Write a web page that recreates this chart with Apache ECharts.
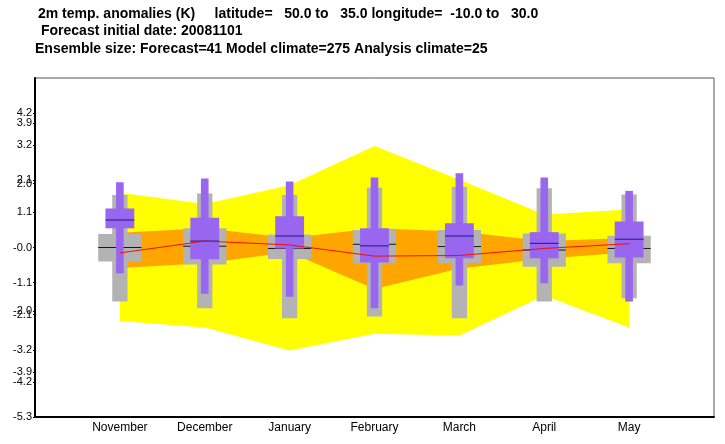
<!DOCTYPE html>
<html>
<head>
<meta charset="utf-8">
<script src="https://cdn.jsdelivr.net/npm/echarts@6/dist/echarts.min.js"></script>
<style>
html,body{margin:0;padding:0;background:#fff;}
#chart{width:725px;height:444px;}
</style>
</head>
<body>
<div id="chart"></div>
<script>
// ---- data ----
const months = ['November','December','January','February','March','April','May'];
// forecast ensemble (purple)
const fcMax = [2.04, 2.16, 2.06, 2.19, 2.32, 2.19, 1.77];
const fcQ3  = [1.22, 0.93, 0.98, 0.60, 0.76, 0.48, 0.81];
const fcMed = [0.86, 0.20, 0.36, 0.05, 0.36, 0.13, 0.26];
const fcQ1  = [0.60, -0.37, -0.03, -0.47, -0.34, -0.34, -0.31];
const fcMin = [-0.81, -1.45, -1.54, -1.90, -1.19, -1.12, -1.69];
// model climate (grey)
const mcMax = [1.64, 1.69, 1.64, 1.87, 1.90, 1.85, 1.66];
const mcQ3  = [0.42, 0.60, 0.41, 0.55, 0.55, 0.44, 0.37];
const mcMed = [0.00, 0.04, -0.03, 0.10, 0.03, -0.08, -0.03];
const mcQ1  = [-0.44, -0.53, -0.36, -0.49, -0.49, -0.60, -0.49];
const mcMin = [-1.69, -1.90, -2.21, -2.16, -2.21, -1.69, -1.59];
// analysis climate (yellow / orange / red)
const anMax = [1.71, 1.36, 1.95, 3.17, 2.12, 1.03, 1.19];
const anQ3  = [0.46, 0.60, 0.30, 0.60, 0.50, 0.20, 0.30];
const anMed = [-0.17, 0.20, 0.08, -0.27, -0.25, -0.03, 0.12];
const anQ1  = [-0.64, -0.49, -0.15, -1.30, -0.66, -0.35, -0.15];
const anMin = [-2.30, -2.50, -3.22, -2.70, -2.75, -1.50, -2.50];
// y axis ticks
const yTickValues = [4.2, 3.9, 3.2, 2.1, 2.0, 1.1, 0, -1.1, -2.0, -2.1, -3.2, -3.9, -4.2, -5.3];
const yTickLabels = ['4.2','3.9','3.2','2.1','2.0','1.1','-0.0','-1.1','-2.0','-2.1','-3.2','-3.9','-4.2','-5.3'];

// ---- build ----
const pos = months.map((m, i) => i + 1);
const boxData = (mn, q1, md, q3, mx) => pos.map((x, i) => [x, mn[i], q1[i], md[i], q3[i], mx[i]]);
const bandData = (lo, hi) => pos.map((x, i) => [x, lo[i], hi[i]]);
// order labels so that the end labels do not collide (avoids automatic hiding of overlapping end labels)
const yLabelValues = [0].concat(yTickValues.filter(v => v !== 0));

function makeBand(lo, hi, color) {
  const data = bandData(lo, hi);
  return {
    type: 'custom',
    data: data,
    silent: true,
    renderItem: function (params, api) {
      if (params.dataIndex !== 0) return null;
      const top = data.map(d => api.coord([d[0], d[2]]));
      const bot = data.map(d => api.coord([d[0], d[1]])).reverse();
      return { type: 'polygon', shape: { points: top.concat(bot) }, style: { fill: color } };
    }
  };
}
function makeBoxes(data, color, medColor, wideW, narrowW) {
  return {
    type: 'custom',
    data: data,
    silent: true,
    renderItem: function (params, api) {
      const x = api.value(0);
      const pMin = api.coord([x, api.value(1)]);
      const pQ1 = api.coord([x, api.value(2)]);
      const pMed = api.coord([x, api.value(3)]);
      const pQ3 = api.coord([x, api.value(4)]);
      const pMax = api.coord([x, api.value(5)]);
      const ww = api.size([wideW, 0])[0];
      const nw = api.size([narrowW, 0])[0];
      const cx = pMed[0];
      return {
        type: 'group',
        children: [
          { type: 'rect', shape: { x: cx - nw / 2, y: pMax[1], width: nw, height: pMin[1] - pMax[1] }, style: { fill: color } },
          { type: 'rect', shape: { x: cx - ww / 2, y: pQ3[1], width: ww, height: pQ1[1] - pQ3[1] }, style: { fill: color } },
          { type: 'line', shape: { x1: cx - ww / 2, y1: pMed[1], x2: cx + ww / 2, y2: pMed[1] }, style: { stroke: medColor, lineWidth: 1 } }
        ]
      };
    }
  };
}

const chart = echarts.init(document.getElementById('chart'), null, { renderer: 'canvas' });
const titleFont = { fontFamily: 'Liberation Sans', fontWeight: 'bold', fontSize: 14, color: '#000' };
chart.setOption({
  animation: false,
  backgroundColor: '#fff',
  title: [
    { text: '2m temp. anomalies (K)     latitude=   50.0 to   35.0 longitude=  -10.0 to   30.0', left: 38, top: 7, padding: 0, textStyle: titleFont },
    { text: 'Forecast initial date: 20081101', left: 41, top: 24, padding: 0, textStyle: titleFont },
    { text: 'Ensemble size: Forecast=41 Model climate=275 Analysis climate=25', left: 35, top: 42, padding: 0, textStyle: titleFont }
  ],
  grid: { left: 35, right: 11, top: 78, bottom: 27, show: true, borderColor: '#555', borderWidth: 1, backgroundColor: 'transparent' },
  xAxis: {
    type: 'value', min: 0, max: 8, interval: 1,
    axisLine: { show: true, onZero: false, lineStyle: { color: '#000', width: 2 } },
    axisTick: { show: false },
    splitLine: { show: false },
    axisLabel: {
      customValues: pos,
      formatter: v => months[Math.round(v) - 1] || '',
      fontFamily: 'Liberation Sans', fontSize: 12, color: '#000', margin: 5
    }
  },
  yAxis: {
    type: 'value', min: -5.3, max: 5.3,
    axisLine: { show: true, onZero: false, lineStyle: { color: '#000', width: 2 } },
    axisTick: { show: true, customValues: yTickValues, length: 2, lineStyle: { color: '#000' } },
    splitLine: { show: false },
    axisLabel: {
      customValues: yLabelValues,
      hideOverlap: false,
      formatter: v => { const i = yTickValues.indexOf(v); return i >= 0 ? yTickLabels[i] : ''; },
      fontFamily: 'Liberation Sans', fontSize: 11, color: '#000', margin: 3
    }
  },
  series: [
    makeBand(anMin, anMax, '#ffff00'),
    makeBand(anQ1, anQ3, '#ffa500'),
    {
      type: 'line', data: pos.map((x, i) => [x, anMed[i]]), symbol: 'none', silent: true,
      lineStyle: { color: '#f01000', width: 1 }
    },
    makeBoxes(boxData(mcMin, mcQ1, mcMed, mcQ3, mcMax), '#b3b3b3', '#1a1a1a', 0.51, 0.18),
    makeBoxes(boxData(fcMin, fcQ1, fcMed, fcQ3, fcMax), '#9966f0', '#1a1a80', 0.34, 0.09)
  ]
});
</script>
</body>
</html>
